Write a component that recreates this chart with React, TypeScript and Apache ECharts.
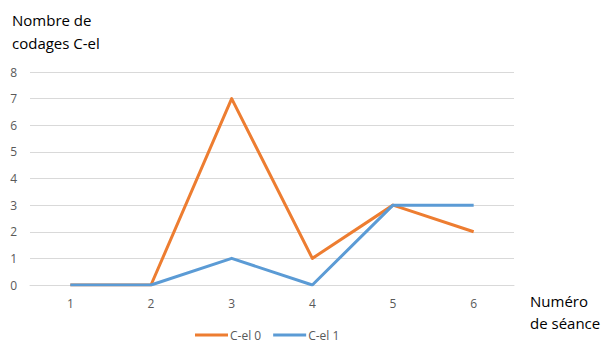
import React, { useEffect, useRef } from "react";
import * as echarts from "echarts";

const categories = ["1", "2", "3", "4", "5", "6"];
const cel0 = [0, 0, 7, 1, 3, 2];
const cel1 = [0, 0, 1, 0, 3, 3];
const seriesNames = ["C-el 0", "C-el 1"];
const yTitleLines = ["Nombre de", "codages C-el"];
const xTitleLines = ["Numéro", "de séance"];

export default function App() {
  const ref = useRef<HTMLDivElement>(null);
  useEffect(() => {
    if (!ref.current) return;
    const chart = echarts.init(ref.current, undefined, { renderer: "svg" });
    const font = "'Open Sans', 'Liberation Sans', sans-serif";
    chart.setOption({
      animation: false,
      backgroundColor: "#ffffff",
      textStyle: { fontFamily: font },
      grid: { left: 30, right: 87, top: 72, bottom: 57, containLabel: false },
      xAxis: {
        type: "category",
        data: categories,
        boundaryGap: true,
        axisLine: { show: true, lineStyle: { color: "#d9d9d9", width: 1 } },
        axisTick: { show: false },
        axisLabel: { color: "#595959", fontSize: 12, margin: 12, fontFamily: font },
      },
      yAxis: {
        type: "value",
        min: 0,
        max: 8,
        interval: 1,
        axisLine: { show: false },
        axisTick: { show: false },
        splitLine: { lineStyle: { color: "#d9d9d9", width: 1 } },
        axisLabel: { color: "#595959", fontSize: 12, margin: 13, fontFamily: font },
      },
      legend: {
        left: 195,
        top: 329,
        padding: 0,
        icon: "rect",
        itemWidth: 33,
        itemHeight: 3,
        itemGap: 12,
        textStyle: {
          color: "#595959",
          fontSize: 12,
          lineHeight: 12,
          fontFamily: font,
          padding: [0, 0, 0, -3],
        },
        data: seriesNames,
      },
      series: [
        {
          name: seriesNames[0],
          type: "line",
          data: cel0,
          symbol: "none",
          color: "#ED7D31",
          lineStyle: { width: 3, color: "#ED7D31", join: "round" },
          z: 2,
        },
        {
          name: seriesNames[1],
          type: "line",
          data: cel1,
          symbol: "none",
          color: "#5B9BD5",
          lineStyle: { width: 3, color: "#5B9BD5", join: "round" },
          z: 3,
        },
      ],
      graphic: [
        {
          type: "text",
          left: 12,
          top: 8,
          style: {
            text: yTitleLines.join("\n"),
            fontSize: 15,
            lineHeight: 23,
            fill: "#000000",
            fontFamily: font,
          },
        },
        {
          type: "text",
          left: 530,
          top: 290,
          style: {
            text: xTitleLines.join("\n"),
            fontSize: 15,
            lineHeight: 22,
            fill: "#000000",
            fontFamily: font,
          },
        },
      ],
    });
    return () => chart.dispose();
  }, []);
  return (
    <div
      ref={ref}
      style={{ position: "fixed", left: 0, top: 0, width: 601, height: 342 }}
    />
  );
}
